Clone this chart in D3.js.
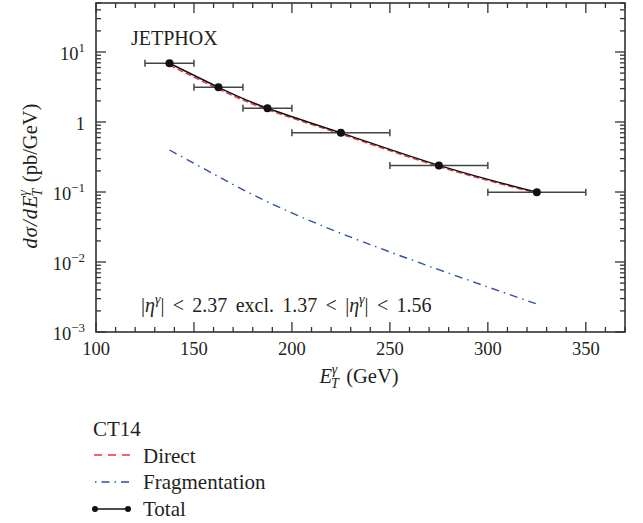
<!DOCTYPE html>
<html><head><meta charset="utf-8">
<script src="https://cdn.jsdelivr.net/npm/d3@7"></script>
<style>
body{margin:0;background:#fff;}
text{font-family:"Liberation Serif","Times New Roman",serif;fill:#231f20;}
</style></head>
<body><svg id="c" width="643" height="523"></svg>
<script>
// ---- data ----
const binLow   = [125, 150, 175, 200, 250, 300];
const binHigh  = [150, 175, 200, 250, 300, 350];
const binCenter= [137.5, 162.5, 187.5, 225, 275, 325];
const totalVals = [6.9, 3.13, 1.57, 0.70, 0.24, 0.099];
const directVals = [6.5, 2.96, 1.50, 0.672, 0.231, 0.0965];
const fragVals = [0.398, 0.166, 0.0724, 0.0257, 0.00776, 0.00251];
const xTicks = [100, 150, 200, 250, 300, 350];
const yTicks = [1e-3, 1e-2, 1e-1, 1, 10];
const yTickExp = ["−3", "−2", "−1", "", "1"];

const svg = d3.select("#c");
const L = 96, R = 625, T = 3, B = 332;
const x = d3.scaleLinear().domain([100, 370]).range([L, R]);
const y = d3.scaleLog().domain([1e-3, Math.pow(10, 1.7)]).range([B, T]);

const axisCol = "#333";
const g = svg.append("g");
const minorX = d3.range(100, 371, 10).filter(v => v % 50 !== 0);
const minorY = [];
[-3, -2, -1, 0, 1].forEach(e => { for (let k = 2; k <= 9; k++) { const v = k * Math.pow(10, e); if (v <= Math.pow(10, 1.7)) minorY.push(v); } });

function tickLines(vals, len, horiz) {
  vals.forEach(v => {
    if (horiz) {
      const px = x(v);
      g.append("line").attr("x1", px).attr("x2", px).attr("y1", B).attr("y2", B - len).attr("stroke", axisCol).attr("stroke-width", 1.3);
      g.append("line").attr("x1", px).attr("x2", px).attr("y1", T).attr("y2", T + len).attr("stroke", axisCol).attr("stroke-width", 1.3);
    } else {
      const py = y(v);
      g.append("line").attr("x1", L).attr("x2", L + len).attr("y1", py).attr("y2", py).attr("stroke", axisCol).attr("stroke-width", 1.3);
      g.append("line").attr("x1", R).attr("x2", R - len).attr("y1", py).attr("y2", py).attr("stroke", axisCol).attr("stroke-width", 1.3);
    }
  });
}
tickLines(xTicks, 10, true);
tickLines(minorX, 5, true);
tickLines(yTicks, 10, false);
tickLines(minorY, 5, false);

g.append("rect").attr("x", L).attr("y", T).attr("width", R - L).attr("height", B - T)
  .attr("fill", "none").attr("stroke", axisCol).attr("stroke-width", 1.6);

// x tick labels
xTicks.forEach(v => {
  svg.append("text").attr("x", x(v)).attr("y", 355).attr("text-anchor", "middle")
    .attr("font-size", 18.5).text(v);
});
// y tick labels
yTicks.forEach((v, i) => {
  const t = svg.append("text").attr("x", 85).attr("y", y(v) + 8).attr("text-anchor", "end").attr("font-size", 18.5);
  if (yTickExp[i] === "") { t.text("1"); }
  else {
    t.append("tspan").text("10");
    t.append("tspan").attr("dy", -8).attr("font-size", 13).text(yTickExp[i]);
  }
});

// axis titles
const xl = svg.append("text").attr("x", 359).attr("y", 383).attr("text-anchor", "middle").attr("font-size", 20.5);
xl.append("tspan").attr("font-style", "italic").text("E");
xl.append("tspan").attr("font-style", "italic").attr("font-size", 14).attr("dy", 5).attr("dx", -1).text("T");
xl.append("tspan").attr("font-style", "italic").attr("font-size", 14).attr("dy", -14).attr("dx", -7).text("γ");
xl.append("tspan").attr("dy", 9).attr("dx", 9).text("(GeV)");

const yl = svg.append("text").attr("transform", "translate(37,176) rotate(-90)").attr("text-anchor", "middle").attr("font-size", 20.5);
yl.append("tspan").attr("font-style", "italic").text("d");
yl.append("tspan").attr("font-style", "italic").attr("dx", 1).text("σ");
yl.append("tspan").attr("font-style", "italic").attr("dx", 1).text("/");
yl.append("tspan").attr("font-style", "italic").attr("dx", 1).text("d");
yl.append("tspan").attr("font-style", "italic").attr("dx", 1).text("E");
yl.append("tspan").attr("font-style", "italic").attr("font-size", 14).attr("dy", 5).attr("dx", -1).text("T");
yl.append("tspan").attr("font-style", "italic").attr("font-size", 14).attr("dy", -14).attr("dx", -7).text("γ");
yl.append("tspan").attr("dy", 9).attr("dx", 8).text("(pb/GeV)");

// JETPHOX
svg.append("text").attr("x", 131).attr("y", 45).attr("font-size", 20).text("JETPHOX");

// annotation
const an = svg.append("text").attr("x", 141).attr("y", 312).attr("font-size", 20).attr("word-spacing", 3.3);
an.append("tspan").text("|");
an.append("tspan").attr("font-style", "italic").text("η");
an.append("tspan").attr("font-style", "italic").attr("font-size", 14).attr("dy", -8).text("γ");
an.append("tspan").attr("dy", 8).text("| < 2.37 excl. 1.37 < |");
an.append("tspan").attr("font-style", "italic").text("η");
an.append("tspan").attr("font-style", "italic").attr("font-size", 14).attr("dy", -8).text("γ");
an.append("tspan").attr("dy", 8).text("| < 1.56");

// curves
const line = d3.line().x((d, i) => x(binCenter[i])).y(d => y(d)).curve(d3.curveNatural);
const red = "#e8323c", blue = "#2f4fa8";
svg.append("path").attr("d", line(fragVals)).attr("fill", "none").attr("stroke", blue).attr("stroke-width", 1.4).attr("stroke-dasharray", "8,5,1.5,5");
svg.append("path").attr("d", line(directVals)).attr("fill", "none").attr("stroke", red).attr("stroke-width", 1.4).attr("stroke-dasharray", "6,3");
svg.append("path").attr("d", line(totalVals)).attr("fill", "none").attr("stroke", "#111").attr("stroke-width", 1.5);

// error bars
const eb = svg.append("g").attr("stroke", "#444").attr("stroke-width", 1.5);
totalVals.forEach((v, i) => {
  const py = y(v);
  eb.append("line").attr("x1", x(binLow[i])).attr("x2", x(binHigh[i])).attr("y1", py).attr("y2", py);
  eb.append("line").attr("x1", x(binLow[i])).attr("x2", x(binLow[i])).attr("y1", py - 3.5).attr("y2", py + 3.5);
  eb.append("line").attr("x1", x(binHigh[i])).attr("x2", x(binHigh[i])).attr("y1", py - 3.5).attr("y2", py + 3.5);
});
svg.selectAll("circle.pt").data(totalVals).enter().append("circle").attr("class", "pt")
  .attr("cx", (d, i) => x(binCenter[i])).attr("cy", d => y(d)).attr("r", 4).attr("fill", "#111");

// legend
svg.append("text").attr("x", 93).attr("y", 436).attr("font-size", 21).text("CT14");
const lg = [
  {label: "Direct", y: 455, ty: 463},
  {label: "Fragmentation", y: 482, ty: 489},
  {label: "Total", y: 509, ty: 516}
];
svg.append("line").attr("x1", 94).attr("x2", 130).attr("y1", lg[0].y).attr("y2", lg[0].y).attr("stroke", red).attr("stroke-width", 1.4).attr("stroke-dasharray", "8,6");
svg.append("line").attr("x1", 95).attr("x2", 131).attr("y1", lg[1].y).attr("y2", lg[1].y).attr("stroke", blue).attr("stroke-width", 1.4).attr("stroke-dasharray", "1.5,5,8,5");
svg.append("line").attr("x1", 95).attr("x2", 128).attr("y1", lg[2].y).attr("y2", lg[2].y).attr("stroke", "#111").attr("stroke-width", 1.5);
[95, 128].forEach(cx => svg.append("circle").attr("cx", cx).attr("cy", lg[2].y).attr("r", 3).attr("fill", "#111"));
lg.forEach(d => svg.append("text").attr("x", 143).attr("y", d.ty).attr("font-size", 21).text(d.label));
</script></body></html>
